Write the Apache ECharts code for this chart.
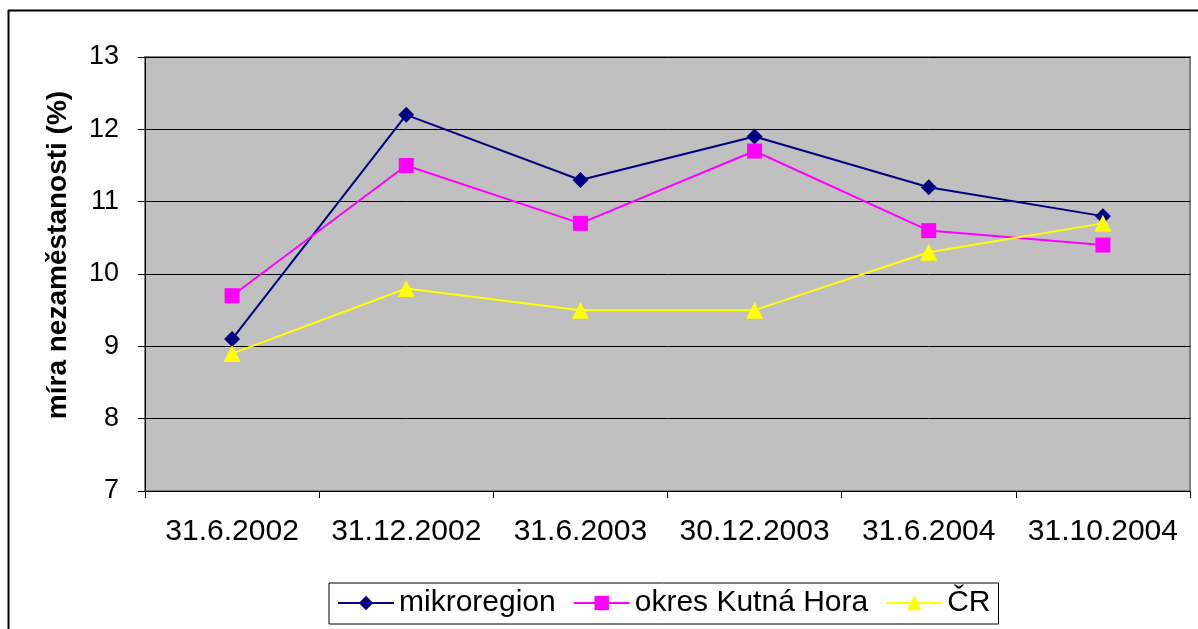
<!DOCTYPE html>
<html>
<head>
<meta charset="utf-8">
<script src="https://cdn.jsdelivr.net/npm/echarts@6/dist/echarts.min.js"></script>
<style>
html,body{margin:0;padding:0;background:#fff;}
#c{width:1198px;height:629px;}
</style>
</head>
<body>
<div id="c"></div>
<script>
const categories = ['31.6.2002','31.12.2002','31.6.2003','30.12.2003','31.6.2004','31.10.2004'];
const mikroregion = [9.1, 12.2, 11.3, 11.9, 11.2, 10.8];
const okres = [9.7, 11.5, 10.7, 11.7, 10.6, 10.4];
const cr = [8.9, 9.8, 9.5, 9.5, 10.3, 10.7];
const seriesNames = ['mikroregion', 'okres Kutná Hora', 'ČR'];
const yName = 'míra nezaměstanosti (%)';

const FONT = '"Liberation Sans", Arial, sans-serif';
const chart = echarts.init(document.getElementById('c'), null, {renderer: 'canvas'});
chart.setOption({
  animation: false,
  backgroundColor: '#fff',
  textStyle: {fontFamily: FONT, color: '#000'},
  graphic: [
    {type: 'line', shape: {x1: 8, y1: 10.5, x2: 1198, y2: 10.5}, style: {stroke: '#000', lineWidth: 2}},
    {type: 'line', shape: {x1: 8.5, y1: 10, x2: 8.5, y2: 629}, style: {stroke: '#000', lineWidth: 2}}
  ],
  grid: {
    left: 145, top: 57, right: 8, bottom: 138,
    show: true, backgroundColor: '#C0C0C0', borderColor: '#808080', borderWidth: 2
  },
  legend: {
    left: 329, top: 583,
    padding: [5, 8, 6, 8],
    itemWidth: 56, itemHeight: 18, itemGap: 17,
    borderColor: '#000', borderWidth: 1, backgroundColor: '#fff',
    textStyle: {fontSize: 30, fontFamily: FONT, color: '#000'},
    data: seriesNames
  },
  xAxis: {
    type: 'category', data: categories, boundaryGap: true,
    axisLine: {lineStyle: {color: '#000', width: 1}},
    axisTick: {show: true, length: 7, interval: 0, lineStyle: {color: '#000'}},
    axisLabel: {fontSize: 30, fontFamily: FONT, color: '#000', margin: 26, interval: 0}
  },
  yAxis: {
    type: 'value', min: 7, max: 13, interval: 1,
    name: yName, nameLocation: 'middle', nameGap: 73,
    nameTextStyle: {fontSize: 28, fontWeight: 'bold', fontFamily: FONT, color: '#000', padding: [0, 0, 0, 38]},
    axisLine: {show: true, lineStyle: {color: '#000', width: 1}},
    axisTick: {show: true, length: 7, lineStyle: {color: '#000'}},
    axisLabel: {fontSize: 27, fontFamily: FONT, color: '#000', margin: 26},
    splitLine: {show: true, lineStyle: {color: '#000', width: 1}}
  },
  series: [
    {name: seriesNames[0], type: 'line', data: mikroregion, symbol: 'diamond', symbolSize: 16,
     lineStyle: {color: '#000080', width: 2}, itemStyle: {color: '#000080'}},
    {name: seriesNames[1], type: 'line', data: okres, symbol: 'rect', symbolSize: 15,
     lineStyle: {color: '#FF00FF', width: 2}, itemStyle: {color: '#FF00FF'}},
    {name: seriesNames[2], type: 'line', data: cr, symbol: 'triangle', symbolSize: 17,
     lineStyle: {color: '#FFFF00', width: 2}, itemStyle: {color: '#FFFF00'}}
  ]
});
</script>
</body>
</html>
